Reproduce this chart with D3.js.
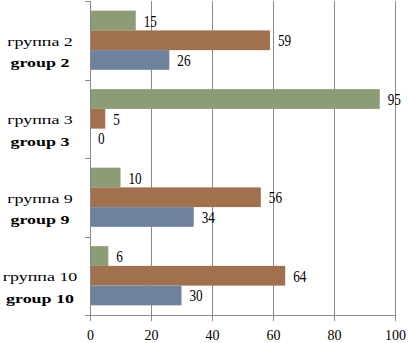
<!DOCTYPE html>
<html><head><meta charset="utf-8">
<script src="https://cdn.jsdelivr.net/npm/d3@7"></script>
<style>body{margin:0;background:#fff}svg{display:block}text{font-family:"Times New Roman","Liberation Serif","DejaVu Serif",serif}</style>
</head><body>
<svg id="c" width="408" height="343"></svg>
<script>
const categories = ["группа 2|group 2", "группа 3|group 3", "группа 9|group 9", "группа 10|group 10"];
const series = ["s1", "s2", "s3"];
const valuesS1 = [15, 95, 10, 6];
const valuesS2 = [59, 5, 56, 64];
const valuesS3 = [26, 0, 34, 30];
const xTicks = [0, 20, 40, 60, 80, 100];
const colors = ["#8c9c74", "#a1704d", "#6e829e"];

const svg = d3.select("#c");
const x = d3.scaleLinear().domain([0, 100]).range([90, 395]);
const y0 = d3.scaleBand().domain(categories).range([1, 315]);
const y1 = d3.scaleBand().domain(series).range([0, y0.bandwidth()]).paddingOuter(0.49);
const allVals = [valuesS1, valuesS2, valuesS3];
const grid = "#8a8a8a";

svg.append("g").selectAll("line").data(xTicks.slice(1)).join("line")
  .attr("x1", d => x(d) + 0.5).attr("x2", d => x(d) + 0.5).attr("y1", 1).attr("y2", 315)
  .attr("stroke", grid).attr("stroke-width", 1);

categories.forEach((c, ci) => {
  series.forEach((s, si) => {
    const v = allVals[si][ci];
    svg.append("rect").attr("x", x(0)).attr("y", y0(c) + y1(s))
      .attr("width", x(v) - x(0)).attr("height", y1.bandwidth())
      .attr("fill", colors[si]);
    svg.append("g").attr("transform", `translate(${x(v) + 8},${y0(c) + y1(s) + y1.bandwidth() / 2 + 6})`)
      .append("text").attr("transform", "scale(0.8,1)")
      .attr("font-size", 16.5).attr("fill", "#000").text(v);
  });
});

const xa = svg.append("g").attr("transform", "translate(0,315)")
  .call(d3.axisBottom(x).tickValues(xTicks).tickSize(6).tickPadding(9));
xa.attr("font-family", null);
xa.select(".domain").attr("stroke", grid).attr("d", "M85,0.5H395");
xa.selectAll(".tick line").attr("stroke", grid);
xa.selectAll("text").attr("font-size", 14).attr("dy", null).attr("y", 24.5).attr("fill", "#000");

const bounds = categories.map(c => y0(c)).concat([315]);
svg.append("line").attr("x1", 90.5).attr("x2", 90.5).attr("y1", 1).attr("y2", 315).attr("stroke", grid);
svg.selectAll("line.t").data(bounds).join("line").attr("class", "t")
  .attr("x1", 85).attr("x2", 90).attr("y1", d => Math.round(d) + 0.5).attr("y2", d => Math.round(d) + 0.5).attr("stroke", grid);

categories.forEach(c => {
  const [ru, en] = c.split("|");
  const cy = y0(c) + y0.bandwidth() / 2;
  const g = svg.append("g").attr("transform", `translate(40,${cy})`);
  g.append("text").attr("text-anchor", "middle").attr("y", 5.5)
    .attr("font-size", 13.5).attr("transform", "scale(1.33,1)").text(ru);
  g.append("text").attr("text-anchor", "middle").attr("y", 27)
    .attr("font-size", 13.5).attr("font-weight", "bold").attr("transform", "scale(1.33,1)").text(en);
});
</script>
</body></html>
